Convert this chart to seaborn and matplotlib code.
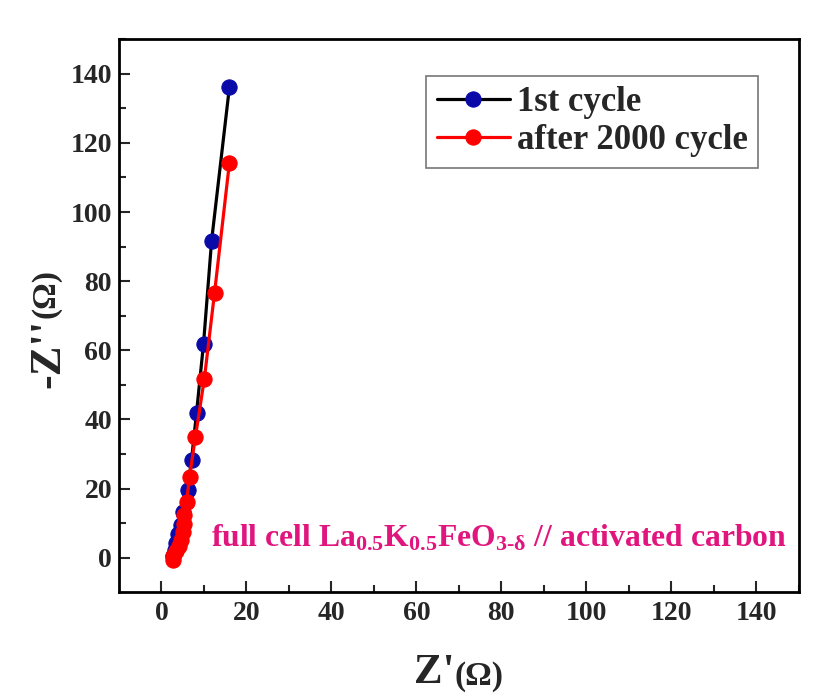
import matplotlib
matplotlib.use("Agg")
import matplotlib.pyplot as plt
import seaborn as sns
import pandas as pd

# Data
cycle1_zre = [16.0, 11.8, 9.9, 8.25, 7.07, 6.13, 4.95, 4.5, 4.0, 3.5, 3.1, 2.8]
cycle1_zim = [136.2, 91.7, 61.9, 41.9, 28.3, 19.7, 13.3, 9.5, 6.7, 4.3, 2.3, 0.6]
cycle2000_zre = [16.0, 12.5, 10.1, 8.0, 6.6, 5.9, 5.4, 5.2, 4.95, 4.7, 4.2, 3.5, 2.8, 2.6]
cycle2000_zim = [114.3, 76.7, 51.8, 35.0, 23.4, 16.2, 12.4, 9.8, 7.5, 5.2, 3.5, 2.0, 0.6, -0.6]
series_names = ["1st cycle", "after 2000 cycle"]
xticks = [0, 20, 40, 60, 80, 100, 120, 140]
yticks = [0, 20, 40, 60, 80, 100, 120, 140]

sns.set_theme(style="ticks")
plt.rcParams['font.family'] = ['Liberation Serif', 'DejaVu Serif']
plt.rcParams['font.weight'] = 'bold'
plt.rcParams['mathtext.fontset'] = 'custom'
plt.rcParams['mathtext.rm'] = 'Liberation Serif:bold'
plt.rcParams['mathtext.it'] = 'Liberation Serif:bold'
plt.rcParams['mathtext.bf'] = 'Liberation Serif:bold'
plt.rcParams['mathtext.default'] = 'bf'

fig = plt.figure(figsize=(8.15, 7.0), dpi=100)
ax = fig.add_axes([0.146, 0.154, 0.834, 0.790])

df1 = pd.DataFrame({"x": cycle1_zre, "y": cycle1_zim})
df2 = pd.DataFrame({"x": cycle2000_zre, "y": cycle2000_zim})

sns.lineplot(data=df1, x="x", y="y", ax=ax, sort=False, color="black",
             linewidth=2.3, marker="o", markersize=11,
             markerfacecolor="#0A0AA8", markeredgecolor="#0A0AA8",
             label=series_names[0])
sns.lineplot(data=df2, x="x", y="y", ax=ax, sort=False, color="#FF0000",
             linewidth=2.3, marker="o", markersize=11,
             markerfacecolor="#FF0000", markeredgecolor="#FF0000",
             label=series_names[1])

ax.set_xlim(-10, 150)
ax.set_ylim(-10, 150)
ax.set_xticks(xticks)
ax.set_yticks(yticks)
ax.set_xticks([v + 10 for v in [-10] + xticks], minor=True)
ax.set_yticks([v + 10 for v in [-10] + yticks], minor=True)
ax.tick_params(axis="x", which="major", direction="in", length=8, width=1.5,
               labelsize=20, pad=6, top=False)
ax.tick_params(axis="y", which="major", direction="in", length=8, width=1.5,
               labelsize=20, pad=5, right=False)
ax.tick_params(axis="both", which="minor", direction="in", length=5, width=1.5,
               top=False, right=False)
for lab in ax.get_xticklabels() + ax.get_yticklabels():
    lab.set_fontweight("bold")
for sp in ax.spines.values():
    sp.set_linewidth(2)
    sp.set_color("black")
    sp.set_visible(True)

ax.set_xlabel("")
ax.set_ylabel("")
fig.text(0.558, 0.012, "Z'", fontsize=31, fontweight="bold", ha="right", va="bottom")
fig.text(0.558, 0.012, "(Ω)", fontsize=24, fontweight="bold", ha="left", va="bottom")
fig.text(0.035, 0.545, "-Z''", fontsize=32, fontweight="bold", rotation=90,
         ha="left", va="top")
fig.text(0.037, 0.545, "(Ω)", fontsize=24, fontweight="bold", rotation=90,
         ha="left", va="bottom")

ax.text(0.982, 0.082,
        r"full cell La$_{0.5}$K$_{0.5}$FeO$_{3\text{-}\delta}$ // activated carbon",
        transform=ax.transAxes, ha="right", va="baseline", fontsize=22.8,
        color="#E0167E", fontweight="bold")

leg = ax.legend(loc="upper right", bbox_to_anchor=(0.94, 0.934), fontsize=25,
                frameon=True, fancybox=False, handlelength=2.1,
                handletextpad=0.2, borderpad=0.3, labelspacing=0.15,
                borderaxespad=0.0)
leg.get_frame().set_edgecolor("#555555")
leg.get_frame().set_linewidth(1.2)
for t in leg.get_texts():
    t.set_fontweight("bold")

fig.savefig("out.png", dpi=100)
